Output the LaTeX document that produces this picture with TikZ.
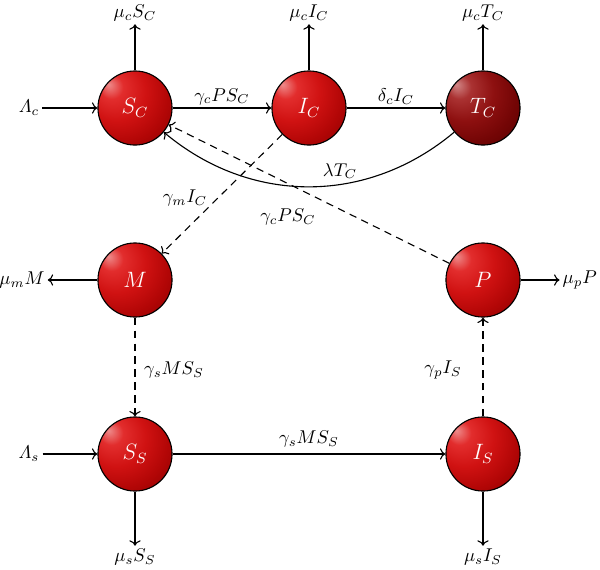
\documentclass[tikz,border=0pt]{standalone}
\usepackage{amsmath}
\usetikzlibrary{arrows.meta}
\definecolor{rbA}{RGB}{238,140,140}
\definecolor{rbB}{RGB}{226,45,45}
\definecolor{rbC}{RGB}{208,18,18}
\definecolor{rbD}{RGB}{178,6,6}
\definecolor{rbE}{RGB}{135,0,0}
\definecolor{rbF}{RGB}{95,0,0}
\definecolor{dbA}{RGB}{210,135,135}
\definecolor{dbB}{RGB}{170,50,50}
\definecolor{dbC}{RGB}{142,16,16}
\definecolor{dbD}{RGB}{115,5,5}
\definecolor{dbE}{RGB}{85,0,0}
\definecolor{dbF}{RGB}{55,0,0}
\pgfdeclareradialshading{redball}{\pgfpoint{-18bp}{16bp}}{color(0bp)=(rbA); color(8bp)=(rbB); color(20bp)=(rbC); color(32bp)=(rbD); color(46bp)=(rbE); color(70bp)=(rbF)}
\pgfdeclareradialshading{darkball}{\pgfpoint{-18bp}{16bp}}{color(0bp)=(dbA); color(8bp)=(dbB); color(20bp)=(dbC); color(32bp)=(dbD); color(46bp)=(dbE); color(70bp)=(dbF)}
\begin{document}
\begin{tikzpicture}[x=0.54pt,y=-0.54pt,
  comp/.style={circle,draw=black,semithick,minimum size=40pt,inner sep=0pt,shading=redball,text=white,font=\fontsize{11.5}{13}\selectfont},
  darkcomp/.style={comp,shading=darkball},
  lab/.style={inner sep=1.5pt},
  flow/.style={semithick,->},
  dsh/.style={dash pattern=on 4pt off 3pt}]
\useasboundingbox (0,0) rectangle (600,570);
% compartments
\node[comp] (SC) at (135,108) {$S_C$};
\node[comp] (IC) at (309,108) {$I_C$};
\node[darkcomp] (TC) at (483,108) {$T_C$};
\node[comp] (M) at (135,280) {$M$};
\node[comp] (P) at (483,280) {$P$};
\node[comp] (SS) at (135,454) {$S_S$};
\node[comp] (IS) at (483,454) {$I_S$};
% outer labels
\node[lab] (lamc) at (29,108) {$\varLambda_c$};
\node[lab] (lams) at (29,454) {$\varLambda_s$};
\node[lab] (muSC) at (135,13) {$\mu_c S_C$};
\node[lab] (muIC) at (309,13) {$\mu_c I_C$};
\node[lab] (muTC) at (483,13) {$\mu_c T_C$};
\node[lab] (mumM) at (22,280) {$\mu_m M$};
\node[lab,anchor=east] (mupP) at (600,280) {$\mu_p P$};
\node[lab] (muSS) at (135,557) {$\mu_s S_S$};
\node[lab] (muIS) at (483,557) {$\mu_s I_S$};
% inner labels
\node[lab] (lT) at (340,171) {$\lambda T_C$};
\node[lab] (gcP) at (288,217) {$\gamma_c P S_C$};
\node[lab] (gmI) at (185,198) {$\gamma_m I_C$};
\node[lab] (gsM) at (174,370) {$\gamma_s M S_S$};
\node[lab] (gpI) at (443,370) {$\gamma_p I_S$};
% flows
\draw[flow] (lamc) -- (SC);
\draw[flow] (lams) -- (SS);
\draw[flow] (SC) -- node[above,lab] {$\gamma_c P S_C$} (IC);
\draw[flow] (IC) -- node[above,lab] {$\delta_c I_C$} (TC);
\draw[flow] (SS) -- node[above,lab,yshift=2pt] {$\gamma_s M S_S$} (IS);
\draw[flow] (SC) -- (muSC);
\draw[flow] (IC) -- (muIC);
\draw[flow] (TC) -- (muTC);
\draw[flow] (M) -- (mumM);
\draw[flow] (P) -- (mupP);
\draw[flow] (SS) -- (muSS);
\draw[flow] (IS) -- (muIS);
\draw[flow] (TC.-140) to[out=-140,in=-40] (SC.-40);
\draw[flow,dsh] (P) -- (SC);
\draw[flow,dsh] (IC) -- (M);
\draw[flow,dsh] (M) -- (SS);
\draw[flow,dsh] (IS) -- (P);
\end{tikzpicture}
\end{document}
